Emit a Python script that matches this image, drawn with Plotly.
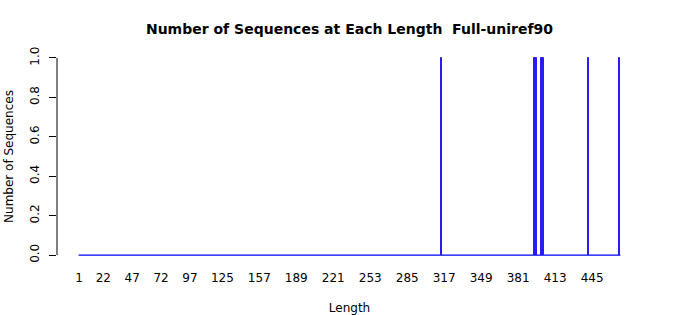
import plotly.graph_objects as go

# Data
lengths = [315, 395, 396, 397, 401, 402, 403, 442, 469]
counts = [1, 1, 1, 1, 1, 1, 1, 1, 1]
length_min = 1
length_max = 469
tick_labels = [1, 22, 47, 72, 97, 125, 157, 189, 221, 253, 285, 317, 349, 381, 413, 445]

title_text = "Number of Sequences at Each Length&nbsp; Full-uniref90"
bar_w = 1 / 1.2

fig = go.Figure()
# zero-height bars of R barplot appear as a baseline
fig.add_trace(go.Scatter(
    x=[length_min - bar_w / 2, length_max + bar_w / 2], y=[0, 0],
    mode="lines", line=dict(color="#0000ff", width=1.3),
    hoverinfo="skip", showlegend=False))
fig.add_trace(go.Bar(
    x=lengths, y=counts, width=bar_w,
    marker=dict(color="#2200cc", line=dict(color="#2a1cf0", width=1)),
    showlegend=False))

fig.update_layout(
    width=700, height=315,
    margin=dict(l=57, r=58, t=50, b=52),
    paper_bgcolor="white", plot_bgcolor="white",
    font=dict(family="DejaVu Sans", size=12, color="black"),
    title=dict(text="<b>" + title_text + "</b>", x=0.5, xref="paper",
               y=1, yref="container", yanchor="top", pad=dict(t=24),
               font=dict(size=14, family="DejaVu Sans")),
    bargap=0,
)
fig.update_xaxes(
    range=[-18.1, 488.2], showgrid=False, zeroline=False, showline=False,
    automargin=False,
    tickmode="array", tickvals=tick_labels, ticktext=[str(t) for t in tick_labels],
    ticks="outside", ticklen=4, tickcolor="rgba(0,0,0,0)", tickangle=0,
    title=dict(text="Length", standoff=19, font=dict(size=12)),
)
fig.update_yaxes(
    range=[-0.04, 1.04], showgrid=False, zeroline=False, showline=False,
    automargin=False,
    tickmode="array", tickvals=[0, 0.2, 0.4, 0.6, 0.8, 1.0],
    ticktext=["0.0", "0.2", "0.4", "0.6", "0.8", "1.0"],
    ticks="outside", ticklen=7, tickcolor="black", tickwidth=1, tickangle=-90,
    ticklabelstandoff=5,
    title=dict(text="Number of Sequences", standoff=12, font=dict(size=12)),
)
fig.add_shape(type="line", xref="paper", yref="y", x0=0, x1=0, y0=0, y1=1,
              line=dict(color="black", width=1))

fig.write_html("out.html")
